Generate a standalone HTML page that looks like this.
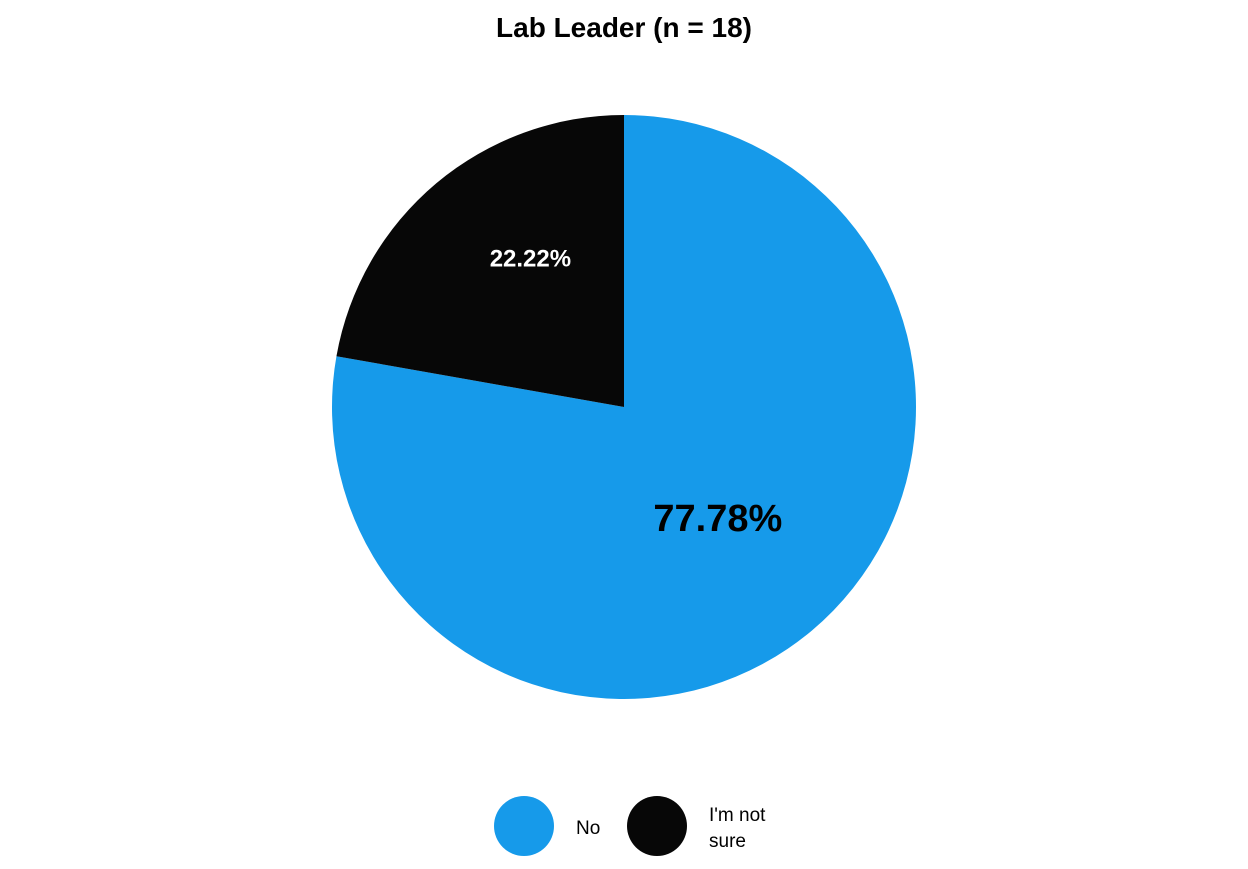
<!DOCTYPE html>
<html><head><meta charset="utf-8"><style>
html,body{margin:0;padding:0;background:#fff;}
body{width:1248px;height:864px;overflow:hidden;font-family:"Liberation Sans",sans-serif;}
</style></head><body>
<svg id="chart" width="1248" height="864" xmlns="http://www.w3.org/2000/svg">
<text x="624" y="37" text-anchor="middle" font-size="28" font-weight="bold" fill="#000">Lab Leader (n = 18)</text>
<g id="slices"></g>
<g id="labels"></g>
<g id="legend"></g>
</svg>
<script>
const categories = ["No", "I'm not sure"];
const values = [77.78, 22.22];
const valueLabels = ["77.78%", "22.22%"];
const colors = ["#169aea", "#070707"];
const NS = "http://www.w3.org/2000/svg";
const cx = 624, cy = 407, R = 292;
const total = values.reduce((a,b)=>a+b,0);
function pt(a, r){ return [cx + r*Math.sin(a), cy - r*Math.cos(a)]; }
const gS = document.getElementById('slices'), gL = document.getElementById('labels'), gLeg = document.getElementById('legend');
let acc = 0;
values.forEach((v,i)=>{
  const a0 = acc/total*2*Math.PI; acc += v; const a1 = acc/total*2*Math.PI;
  const p0 = pt(a0,R), p1 = pt(a1,R);
  const large = (a1-a0) > Math.PI ? 1 : 0;
  const p = document.createElementNS(NS,'path');
  p.setAttribute('d', `M${cx},${cy} L${p0[0]},${p0[1]} A${R},${R} 0 ${large} 1 ${p1[0]},${p1[1]} Z`);
  p.setAttribute('fill', colors[i]);
  
  
  gS.appendChild(p);
  const mid = (a0+a1)/2;
  const big = v/total > 0.5;
  const lp = pt(mid, R*(big ? 0.5 : 0.6));
  if (!big) { lp[0] += 19; lp[1] -= 14; }
  const t = document.createElementNS(NS,'text');
  t.setAttribute('x', lp[0]); t.setAttribute('y', lp[1]);
  t.setAttribute('text-anchor','middle'); t.setAttribute('dominant-baseline','central');
  t.setAttribute('font-weight','bold');
  t.setAttribute('font-size', big ? 38 : 24);
  t.setAttribute('fill', big ? '#000' : '#fff');
  t.textContent = valueLabels[i];
  
  
  gL.appendChild(t);
});
const legX = [524, 657];
categories.forEach((c,i)=>{
  const circ = document.createElementNS(NS,'circle');
  circ.setAttribute('cx', legX[i]); circ.setAttribute('cy', 826); circ.setAttribute('r', 30);
  circ.setAttribute('fill', colors[i]);
  
  
  gLeg.appendChild(circ);
  const t = document.createElementNS(NS,'text');
  t.setAttribute('font-size', 19); t.setAttribute('fill','#000');
  
  
  const words = c.length > 6 ? ["I'm not","sure"] : [c];
  words.forEach((w,j)=>{
    const ts = document.createElementNS(NS,'tspan');
    ts.setAttribute('x', legX[i]+52);
    ts.setAttribute('y', words.length===1 ? 834 : 821 + j*26);
    ts.textContent = w;
    t.appendChild(ts);
  });
  gLeg.appendChild(t);
});
</script>
</body></html>
